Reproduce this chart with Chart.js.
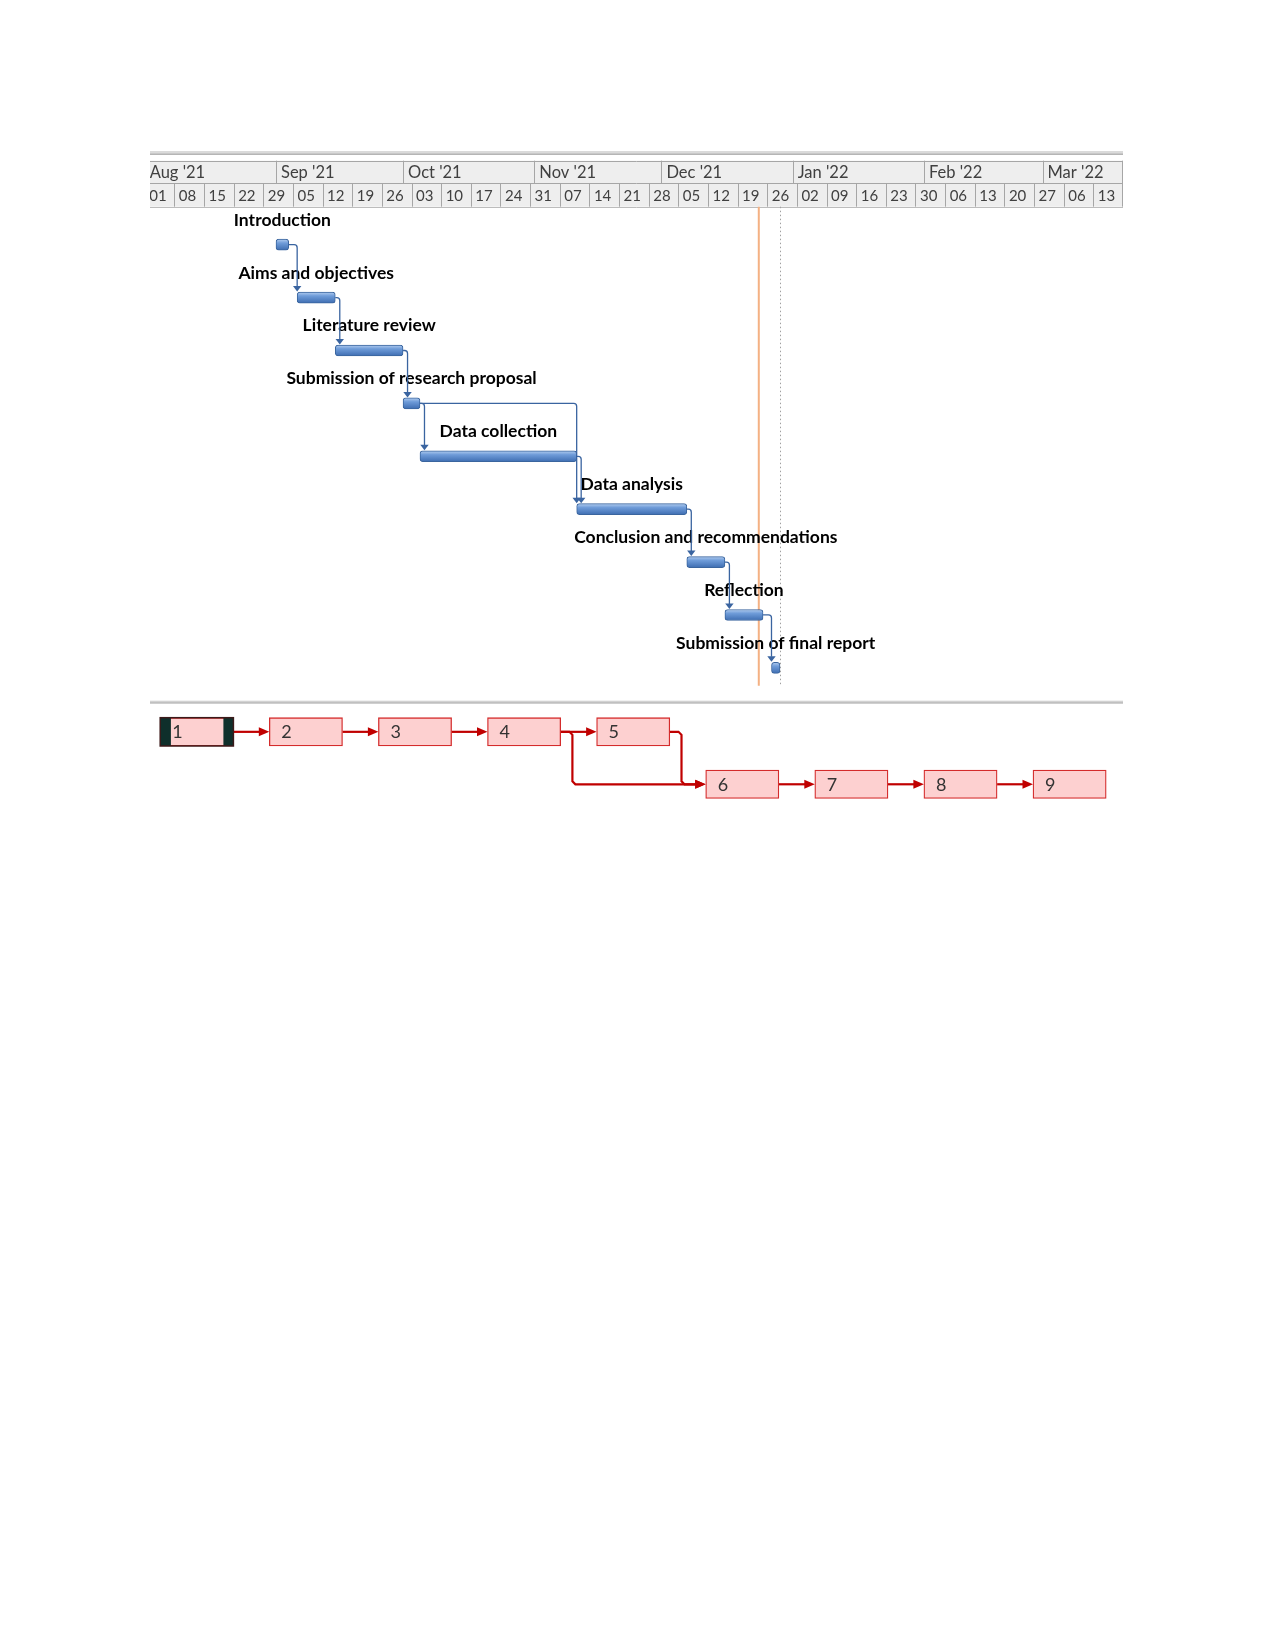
<!DOCTYPE html>
<html>
<head>
<meta charset="utf-8">
<title>Project schedule</title>
<script src="https://cdn.jsdelivr.net/npm/chart.js@4.4.1/dist/chart.umd.min.js"></script>
<style>
  html, body { margin: 0; padding: 0; background: #fff; }
  #page { position: relative; width: 1275px; height: 1650px; }
  #gantt-box { position: absolute; left: 0; top: 0; width: 1275px; height: 700px; }
  #network-box { position: absolute; left: 0; top: 700px; width: 1275px; height: 120px; }
</style>
</head>
<body>
<div id="page">
  <div id="gantt-box"><canvas id="gantt-canvas"></canvas></div>
  <div id="network-box"><canvas id="network-canvas"></canvas></div>
</div>
<script>
// Tasks of the schedule
const taskNames = ['Introduction', 'Aims and objectives', 'Literature review', 'Submission of research proposal',
  'Data collection', 'Data analysis', 'Conclusion and recommendations', 'Reflection', 'Submission of final report'];
const taskStarts = ['2021-09-01', '2021-09-06', '2021-09-15', '2021-10-01', '2021-10-05',
  '2021-11-11', '2021-12-07', '2021-12-16', '2021-12-27'];
const taskEnds = ['2021-09-04', '2021-09-15', '2021-10-01', '2021-10-05', '2021-11-11',
  '2021-12-07', '2021-12-16', '2021-12-25', '2021-12-29'];
const taskPredecessors = [[], [1], [2], [3], [4], [4, 5], [6], [7], [8]];

// Timescale labels
const monthLabels = ["Aug '21", "Sep '21", "Oct '21", "Nov '21", "Dec '21", "Jan '22", "Feb '22", "Mar '22"];
const monthStarts = ['2021-08-01', '2021-09-01', '2021-10-01', '2021-11-01', '2021-12-01', '2022-01-01', '2022-02-01', '2022-03-01'];
const weekLabels = ['01', '08', '15', '22', '29', '05', '12', '19', '26', '03', '10', '17', '24', '31', '07', '14', '21',
  '28', '05', '12', '19', '26', '02', '09', '16', '23', '30', '06', '13', '20', '27', '06', '13'];
const firstWeek = '2021-08-01';
const viewStart = '2021-08-02 06:00';
const viewEnd = '2022-03-20';
const statusDate = '2021-12-24';
const projectFinish = '2021-12-29';

// Network diagram (task ids, row of each box)
const nodeIds = [1, 2, 3, 4, 5, 6, 7, 8, 9];
const nodeRows = [0, 0, 0, 0, 0, 1, 1, 1, 1];
const selectedNode = 1;

const boxSpan = 0.671;

// Days since 1 Aug 2021
function dayOf(s) {
  const p = s.split(/[- :T]/).map(Number);
  return (Date.UTC(p[0], p[1] - 1, p[2], p[3] || 0, p[4] || 0) - Date.UTC(2021, 7, 1)) / 864e5;
}

function crisp(v) {
  return Math.round(v) + 0.5;
}

// Blue gradient of the gantt bars
function barGradient(context) {
  const chart = context.chart;
  const yScale = chart.scales.y;
  if (!yScale || context.dataIndex === undefined) {
    return '#5b8bd0';
  }
  const yc = yScale.getPixelForValue(context.dataIndex);
  if (!isFinite(yc)) {
    return '#5b8bd0';
  }
  const g = chart.ctx.createLinearGradient(0, yc - 5.5, 0, yc + 5.5);
  g.addColorStop(0, '#b3cdef');
  g.addColorStop(0.35, '#6f9cd9');
  g.addColorStop(1, '#3e6db1');
  return g;
}

// Header, status lines, labels and links of the gantt
const ganttDecor = {
  id: 'ganttDecor',
  beforeDraw(chart) {
    const ctx = chart.ctx;
    const area = chart.chartArea;
    const x = chart.scales.x;
    const left = area.left, right = area.right, width = right - left;
    const monthTop = 160.7, weekTop = 183.3, bottom = area.top;

    ctx.save();
    // double line on top
    ctx.fillStyle = '#dadada';
    ctx.fillRect(left, 151, width, 4);
    ctx.fillStyle = '#b5b5b5';
    ctx.fillRect(left, 153.5, width, 1.5);

    ctx.fillStyle = '#eeeeee';
    ctx.fillRect(left, monthTop, width, bottom - monthTop);

    ctx.beginPath();
    ctx.rect(left, monthTop - 1, width, bottom - monthTop + 2);
    ctx.clip();

    ctx.strokeStyle = '#a6a6a6';
    ctx.lineWidth = 1;
    ctx.beginPath();
    [monthTop, weekTop, bottom].forEach(function(yy) {
      ctx.moveTo(left, crisp(yy));
      ctx.lineTo(right, crisp(yy));
    });
    ctx.moveTo(right - 0.5, monthTop);
    ctx.lineTo(right - 0.5, bottom);

    ctx.fillStyle = '#404040';
    ctx.textAlign = 'left';
    ctx.textBaseline = 'alphabetic';

    ctx.font = '16.5px Lato';
    monthStarts.forEach(function(s, i) {
      const px = x.getPixelForValue(dayOf(s));
      ctx.moveTo(crisp(px), monthTop);
      ctx.lineTo(crisp(px), weekTop);
      ctx.fillText(monthLabels[i], px + 5, 178);
    });
    ctx.font = '15px Lato';
    weekLabels.forEach(function(label, i) {
      const px = x.getPixelForValue(dayOf(firstWeek) + 7 * i);
      ctx.moveTo(crisp(px), weekTop);
      ctx.lineTo(crisp(px), bottom);
      ctx.fillText(label, px + 4.5, 201);
    });
    ctx.stroke();
    ctx.restore();
  },
  beforeDatasetsDraw(chart) {
    const ctx = chart.ctx;
    const area = chart.chartArea;
    const x = chart.scales.x;
    ctx.save();
    // status date
    const sx = x.getPixelForValue(dayOf(statusDate));
    ctx.strokeStyle = '#f4b183';
    ctx.lineWidth = 2;
    ctx.beginPath();
    ctx.moveTo(sx, area.top);
    ctx.lineTo(sx, area.bottom);
    ctx.stroke();
    // project finish
    const fx = x.getPixelForValue(dayOf(projectFinish));
    ctx.strokeStyle = '#a0a0a0';
    ctx.lineWidth = 1;
    ctx.setLineDash([1.5, 2.5]);
    ctx.beginPath();
    ctx.moveTo(crisp(fx), area.top);
    ctx.lineTo(crisp(fx), area.bottom);
    ctx.stroke();
    ctx.restore();
  },
  afterDatasetsDraw(chart) {
    const ctx = chart.ctx;
    const bars = chart.getDatasetMeta(0).data;
    ctx.save();

    // task names above bars
    ctx.font = 'bold 17.5px Lato';
    ctx.fillStyle = '#000';
    ctx.textAlign = 'center';
    ctx.textBaseline = 'alphabetic';
    bars.forEach(function(bar, i) {
      ctx.fillText(taskNames[i], (bar.x + bar.base) / 2, bar.y - 19);
    });

    // finish-to-start links
    ctx.strokeStyle = '#3a64a0';
    ctx.fillStyle = '#3a64a0';
    ctx.lineWidth = 1.3;
    taskPredecessors.forEach(function(preds, i) {
      preds.forEach(function(p) {
        const from = bars[p - 1];
        const to = bars[i];
        const fromEnd = Math.max(from.x, from.base);
        const toStart = Math.min(to.x, to.base);
        const vx = Math.max(fromEnd + 4.5, toStart);
        const tip = to.y - to.height / 2 - 0.5;
        const r = 3;
        ctx.beginPath();
        ctx.moveTo(fromEnd, from.y);
        ctx.lineTo(vx - r, from.y);
        ctx.quadraticCurveTo(vx, from.y, vx, from.y + r);
        ctx.lineTo(vx, tip - 5);
        ctx.stroke();
        ctx.beginPath();
        ctx.moveTo(vx - 4.2, tip - 5.5);
        ctx.lineTo(vx + 4.2, tip - 5.5);
        ctx.lineTo(vx, tip);
        ctx.closePath();
        ctx.fill();
      });
    });
    ctx.restore();
  }
};

// Separator, links, selection and ids of the network diagram
const networkDecor = {
  id: 'networkDecor',
  beforeDatasetsDraw(chart) {
    const ctx = chart.ctx;
    const area = chart.chartArea;
    ctx.save();
    ctx.fillStyle = '#d2d2d2';
    ctx.fillRect(area.left, 0.7, area.right - area.left, 2.8);
    ctx.fillStyle = '#b8b8b8';
    ctx.fillRect(area.left, 2.3, area.right - area.left, 1.2);

    const boxes = chart.getDatasetMeta(0).data;
    ctx.strokeStyle = '#c00000';
    ctx.fillStyle = '#c00000';
    ctx.lineWidth = 2.2;
    taskPredecessors.forEach(function(preds, i) {
      preds.forEach(function(p) {
        const from = boxes[p - 1];
        const to = boxes[i];
        const fromRight = Math.max(from.x, from.base);
        const toLeft = Math.min(to.x, to.base);
        const arrowLen = 10.5;
        ctx.beginPath();
        ctx.moveTo(fromRight, from.y);
        if (Math.abs(from.y - to.y) < 1) {
          ctx.lineTo(toLeft - arrowLen + 1, to.y);
        } else {
          const vx = fromRight + 11.7;
          const b = 3;
          ctx.lineTo(vx - b, from.y);
          ctx.lineTo(vx, from.y + b);
          ctx.lineTo(vx, to.y - b);
          ctx.lineTo(vx + b, to.y);
          ctx.lineTo(toLeft - arrowLen + 1, to.y);
        }
        ctx.stroke();
        ctx.beginPath();
        ctx.moveTo(toLeft, to.y);
        ctx.lineTo(toLeft - arrowLen, to.y - 4.5);
        ctx.lineTo(toLeft - arrowLen, to.y + 4.5);
        ctx.closePath();
        ctx.fill();
      });
    });
    ctx.restore();
  },
  afterDatasetsDraw(chart) {
    const ctx = chart.ctx;
    const boxes = chart.getDatasetMeta(0).data;
    ctx.save();

    // selected box frame
    const sel = boxes[selectedNode - 1];
    const sl = Math.min(sel.x, sel.base), sr = Math.max(sel.x, sel.base);
    const st = sel.y - sel.height / 2;
    ctx.fillStyle = '#0f2f2b';
    ctx.fillRect(sl, st, 10.7, sel.height);
    ctx.fillRect(sr - 10, st, 10, sel.height);
    ctx.strokeStyle = '#3a1a1a';
    ctx.lineWidth = 1.5;
    ctx.strokeRect(sl, st, sr - sl, sel.height);

    ctx.font = '18px Lato';
    ctx.fillStyle = '#333';
    ctx.textAlign = 'left';
    ctx.textBaseline = 'middle';
    boxes.forEach(function(box, i) {
      ctx.fillText(String(nodeIds[i]), Math.min(box.x, box.base) + 12, box.y + 0.5);
    });
    ctx.restore();
  }
};

function buildCharts() {
  // Gantt chart
  new Chart(document.getElementById('gantt-canvas'), {
    type: 'bar',
    data: {
      datasets: [{
        data: taskNames.map(function(name, i) {
          return { x: [dayOf(taskStarts[i]), dayOf(taskEnds[i])], y: i };
        }),
        backgroundColor: barGradient,
        borderColor: '#3a659e',
        borderWidth: 1,
        borderSkipped: false,
        borderRadius: 3,
        barThickness: 11
      }]
    },
    options: {
      indexAxis: 'y',
      responsive: true,
      maintainAspectRatio: false,
      animation: false,
      layout: { padding: { left: 150, right: 152, top: 206.7, bottom: 14.3 } },
      scales: {
        x: { type: 'linear', min: dayOf(viewStart), max: dayOf(viewEnd), display: false },
        y: { type: 'linear', offset: false, min: -0.718, max: 8.337, reverse: true, display: false }
      },
      plugins: { legend: { display: false }, tooltip: { enabled: false } }
    },
    plugins: [ganttDecor]
  });

  // Network diagram
  new Chart(document.getElementById('network-canvas'), {
    type: 'bar',
    data: {
      datasets: [{
        data: nodeIds.map(function(id, i) {
          return { x: [i, i + boxSpan], y: nodeRows[i] };
        }),
        backgroundColor: '#fdd0d0',
        borderColor: '#d42c2c',
        borderWidth: 1.3,
        borderSkipped: false,
        barThickness: 28.3
      }]
    },
    options: {
      indexAxis: 'y',
      responsive: true,
      maintainAspectRatio: false,
      animation: false,
      layout: { padding: { left: 150, right: 152, top: 0, bottom: 0 } },
      scales: {
        x: { type: 'linear', min: -0.0935, max: 8.825, display: false },
        y: { type: 'linear', offset: false, min: -0.607, max: 1.681, reverse: true, display: false }
      },
      plugins: { legend: { display: false }, tooltip: { enabled: false } }
    },
    plugins: [networkDecor]
  });
}

document.addEventListener('DOMContentLoaded', function() {
  Promise.all([document.fonts.load('15px Lato'), document.fonts.load('bold 17.5px Lato')])
    .catch(function() {})
    .then(buildCharts);
});
</script>
</body>
</html>
